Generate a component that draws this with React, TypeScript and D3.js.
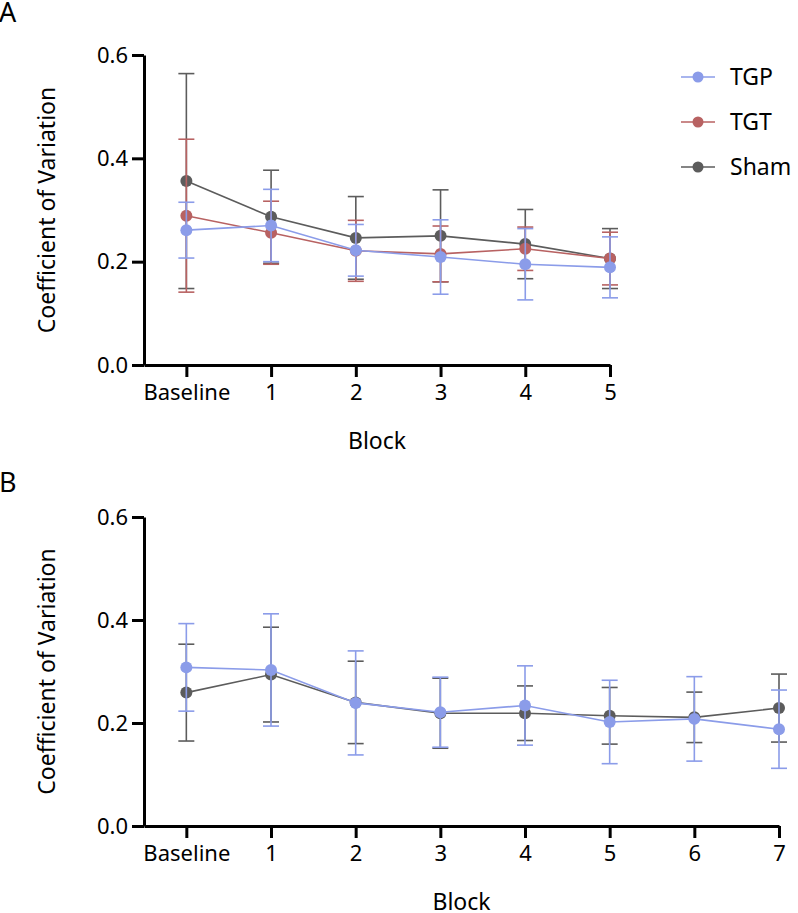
import React, { useRef, useEffect } from 'react';
import * as d3 from 'd3';

// panel A: baseline + 5 blocks
const blocksA = ['Baseline', '1', '2', '3', '4', '5'];
const tgpA = [0.261, 0.270, 0.222, 0.209, 0.195, 0.189];
const tgpErrA = [0.054, 0.070, 0.050, 0.072, 0.069, 0.059];
const tgtA = [0.289, 0.256, 0.221, 0.215, 0.225, 0.206];
const tgtErrA = [0.148, 0.061, 0.059, 0.054, 0.042, 0.051];
const shamA = [0.356, 0.287, 0.246, 0.250, 0.234, 0.206];
const shamErrA = [0.208, 0.090, 0.080, 0.089, 0.067, 0.058];

// panel B: baseline + 7 blocks
const blocksB = ['Baseline', '1', '2', '3', '4', '5', '6', '7'];
const tgpB = [0.308, 0.303, 0.239, 0.221, 0.234, 0.202, 0.208, 0.188];
const tgpErrB = [0.085, 0.109, 0.101, 0.068, 0.077, 0.081, 0.082, 0.076];
const shamB = [0.259, 0.294, 0.240, 0.219, 0.219, 0.214, 0.211, 0.229];
const shamErrB = [0.094, 0.092, 0.080, 0.068, 0.053, 0.055, 0.049, 0.066];

const yTicks = [0, 0.2, 0.4, 0.6];
const legendNames = ['TGP', 'TGT', 'Sham'];

const COLORS = { TGP: '#8b9ce9', TGT: '#b86262', Sham: '#5c5c5c' };
const FONT = '"Noto Sans", sans-serif';

type Series = { name: string; values: number[]; errs: number[] };

function drawPanel(
  svg: d3.Selection<SVGSVGElement, unknown, null, undefined>,
  opts: { top: number; bottom: number; right: number; cats: string[]; series: Series[]; letter: string; letterY: number }
) {
  const left = 144;
  const x = d3.scaleLinear().domain([-0.5, opts.cats.length - 1]).range([left, opts.right]);
  const y = d3.scaleLinear().domain([0, 0.6]).range([opts.bottom, opts.top]);
  const g = svg.append('g');

  // panel letter
  g.append('text')
    .attr('x', -1)
    .attr('y', opts.letterY)
    .attr('font-family', FONT)
    .attr('font-size', 27)
    .attr('fill', '#000')
    .text(opts.letter);

  // series (drawn back to front)
  opts.series.forEach((s) => {
    const col = (COLORS as any)[s.name];
    const sg = g.append('g');
    const line = d3.line<number>().x((d, i) => x(i)).y((d) => y(d));
    sg.append('path')
      .attr('d', line(s.values))
      .attr('fill', 'none')
      .attr('stroke', col)
      .attr('stroke-width', 1.6);
    s.values.forEach((v, i) => {
      const lo = y(v - s.errs[i]);
      const hi = y(v + s.errs[i]);
      const cx = x(i);
      sg.append('line').attr('x1', cx).attr('x2', cx).attr('y1', lo).attr('y2', hi)
        .attr('stroke', col).attr('stroke-width', 1.6);
      [lo, hi].forEach((yy) => {
        sg.append('line').attr('x1', cx - 8).attr('x2', cx + 8).attr('y1', yy).attr('y2', yy)
          .attr('stroke', col).attr('stroke-width', 1.6);
      });
    });
    sg.selectAll('circle.pt')
      .data(s.values)
      .enter()
      .append('circle')
      .attr('cx', (d, i) => x(i))
      .attr('cy', (d) => y(d))
      .attr('r', 6)
      .attr('fill', col);
  });

  // y axis
  const yAxis = g.append('g')
    .attr('transform', `translate(${left},0)`)
    .call(d3.axisLeft(y).tickValues(yTicks).tickFormat(d3.format('.1f')).tickSize(12).tickSizeOuter(0).tickPadding(4));
  yAxis.select('.domain').attr('stroke-width', 3).attr('stroke', '#000');
  yAxis.selectAll('.tick line').attr('stroke-width', 3).attr('stroke', '#000');
  yAxis.selectAll('.tick text').attr('font-family', FONT).attr('font-size', 22).attr('fill', '#000');

  // x axis
  const xAxis = g.append('g')
    .attr('transform', `translate(0,${opts.bottom})`)
    .call(
      d3.axisBottom(x)
        .tickValues(d3.range(opts.cats.length))
        .tickFormat((d) => opts.cats[d as number])
        .tickSize(12)
        .tickSizeOuter(0)
        .tickPadding(7)
    );
  xAxis.select('.domain').attr('stroke-width', 3).attr('stroke', '#000');
  xAxis.selectAll('.tick line').attr('stroke-width', 3).attr('stroke', '#000');
  xAxis.selectAll('.tick text').attr('font-family', FONT).attr('font-size', 22).attr('fill', '#000');

  // axis titles
  g.append('text')
    .attr('transform', `translate(55,${(opts.top + opts.bottom) / 2}) rotate(-90)`)
    .attr('text-anchor', 'middle')
    .attr('font-family', FONT)
    .attr('font-size', 23)
    .attr('fill', '#000')
    .text('Coefficient of Variation');

  g.append('text')
    .attr('x', (left + opts.right) / 2)
    .attr('y', opts.bottom + 84)
    .attr('text-anchor', 'middle')
    .attr('font-family', FONT)
    .attr('font-size', 23)
    .attr('fill', '#000')
    .text('Block');
}

export default function App() {
  const svgRef = useRef<SVGSVGElement>(null);

  useEffect(() => {
    const svg = d3.select(svgRef.current as SVGSVGElement);
    svg.selectAll('*').remove();

    drawPanel(svg, {
      top: 55, bottom: 365, right: 610, cats: blocksA, letter: 'A', letterY: 22,
      series: [
        { name: 'Sham', values: shamA, errs: shamErrA },
        { name: 'TGT', values: tgtA, errs: tgtErrA },
        { name: 'TGP', values: tgpA, errs: tgpErrA },
      ],
    });

    drawPanel(svg, {
      top: 517, bottom: 826, right: 779, cats: blocksB, letter: 'B', letterY: 492,
      series: [
        { name: 'Sham', values: shamB, errs: shamErrB },
        { name: 'TGP', values: tgpB, errs: tgpErrB },
      ],
    });

    // legend
    const leg = svg.append('g')
      .selectAll('g')
      .data(legendNames)
      .enter()
      .append('g')
      .attr('transform', (d, i) => `translate(0,${77 + i * 45})`);
    leg.append('line')
      .attr('x1', 681).attr('x2', 715)
      .attr('stroke', (d) => (COLORS as any)[d]).attr('stroke-width', 1.6);
    leg.append('circle')
      .attr('cx', 698).attr('r', 5.5)
      .attr('fill', (d) => (COLORS as any)[d]);
    leg.append('text')
      .attr('x', 730).attr('dy', '0.35em')
      .attr('font-family', FONT).attr('font-size', 23).attr('fill', '#000')
      .text((d) => d);
  }, []);

  return (
    <div style={{ position: 'absolute', left: 0, top: 0 }}>
      <svg ref={svgRef} width={798} height={913} style={{ display: 'block', background: '#fff' }}></svg>
    </div>
  );
}
